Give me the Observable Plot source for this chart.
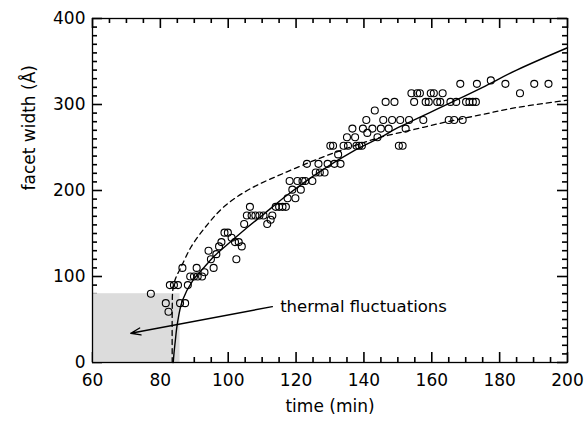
<!DOCTYPE html>
<html><head><meta charset="utf-8">
<script src="https://cdn.jsdelivr.net/npm/d3@7"></script>
<script src="https://cdn.jsdelivr.net/npm/@observablehq/plot@0.6"></script>
<style>
body{margin:0;background:#fff;}
#chart{width:588px;height:425px;}
#chart svg{font-family:"DejaVu Sans",sans-serif;background:#fff;}
</style>
</head><body><div id="chart"></div>
<script>
// measured facet widths (open circles)
const times = [77.2, 81.6, 82.4, 82.8, 84.0, 85.2, 85.8, 87.3, 86.5, 88.1,
  88.8, 89.9, 91.0, 92.3, 90.7, 93.0, 94.2, 94.9, 95.7, 96.5,
  97.3, 98.0, 98.9, 99.9, 101.0, 102.0, 103.1, 104.0, 102.4, 104.7,
  105.5, 106.4, 106.9, 108.0, 109.2, 110.4, 111.5, 112.5, 113.0, 114.0,
  115.0, 116.0, 117.0, 117.5, 119.8, 118.9, 121.4, 118.1, 120.4, 121.9,
  122.7, 124.8, 125.8, 127.0, 128.4, 123.2, 126.6, 129.3, 131.3, 133.1,
  132.4, 130.1, 130.9, 134.0, 135.3, 137.8, 138.6, 139.4, 135.0, 137.4,
  144.0, 136.6, 139.7, 141.0, 142.5, 145.0, 147.3, 152.3, 140.7, 145.7,
  148.3, 150.7, 153.3, 157.5, 165.0, 166.6, 169.1, 143.2, 146.4, 149.0,
  154.8, 158.2, 159.1, 161.6, 162.5, 165.5, 167.2, 170.1, 171.1, 172.1,
  173.0, 154.0, 155.7, 156.5, 159.7, 160.6, 163.2, 186.0, 168.4, 173.3,
  177.4, 181.7, 190.2, 194.4, 150.3, 151.4];
const widths = [80, 69, 59, 90, 90, 90, 69, 69, 110, 90,
  100, 100, 100, 100, 110, 105, 130, 120, 110, 126,
  135, 140, 151, 151, 145, 140, 140, 135, 120, 161,
  171, 181, 171, 171, 171, 171, 161, 166, 171, 181,
  181, 181, 181, 191, 191, 201, 201, 211, 211, 211,
  211, 211, 221, 221, 221, 231, 231, 231, 231, 231,
  242, 252, 252, 252, 252, 252, 252, 252, 262, 262,
  262, 272, 272, 267, 272, 272, 272, 272, 282, 282,
  282, 282, 282, 282, 282, 282, 282, 293, 303, 303,
  303, 303, 303, 303, 303, 303, 303, 303, 303, 303,
  303, 313, 313, 313, 313, 313, 313, 313, 324, 324,
  328, 324, 324, 324, 252, 252];

// solid fit curve
const solidT = [83.8, 84.0, 84.4, 85, 86.5, 89.5, 93, 96, 100, 105, 110, 117.5, 127, 137, 145, 150, 165, 175, 185, 200];
const solidW = [0, 10, 25, 45, 72, 95, 111, 124, 138, 155, 171, 195, 222, 246, 262, 273, 301, 320, 340, 366];

// dashed fit curve
const dashT = [83.5, 83.5, 83.7, 84.5, 86, 89, 94, 99, 106.5, 117.5, 127.3, 137.1, 145, 154.8, 164.6, 174.5, 184.3, 200];
const dashW = [0, 60, 85, 98, 110, 134, 161, 182, 202, 222, 238, 252, 262, 271, 280, 288, 296, 305];

// shaded "thermal fluctuations" region
const shadeT = [60, 85.8];
const shadeW = [0, 80];

// annotation
const noteText = "thermal fluctuations";
const noteAt = [115.3, 65];
const arrowFrom = [113, 65];
const arrowTo = [71.3, 34];

// axes
const xDomain = [60, 200];
const yDomain = [0, 400];
const xMajor = [60, 80, 100, 120, 140, 160, 180, 200];
const yMajor = [0, 100, 200, 300, 400];
const xMinor = [65, 70, 75, 85, 90, 95, 105, 110, 115, 125, 130, 135, 145, 150, 155, 165, 170, 175, 185, 190, 195];
const yMinor = [10, 20, 30, 40, 50, 60, 70, 80, 90, 110, 120, 130, 140, 150, 160, 170, 180, 190,
  210, 220, 230, 240, 250, 260, 270, 280, 290, 310, 320, 330, 340, 350, 360, 370, 380, 390];
const xTitle = "time (min)";
const yTitle = "facet width (Å)";

const points = times.map((t, i) => ({t, w: widths[i]}));
const solid = solidT.map((t, i) => ({t, w: solidW[i]}));
const dashed = dashT.map((t, i) => ({t, w: dashW[i]}));
const shade = [{t1: shadeT[0], t2: shadeT[1], w1: shadeW[0], w2: shadeW[1]}];
const arrowRow = [{xa: arrowFrom[0], ya: arrowFrom[1], xb: arrowTo[0], yb: arrowTo[1]}];
const noteRow = [{x: noteAt[0], y: noteAt[1], label: noteText}];

const W = 588, H = 425, ML = 92, MR = 21, MT = 18, MB = 63;
const PW = W - ML - MR, PH = H - MT - MB;
const MAJ = 10, MIN = 5;
const FONT = "DejaVu Sans";

const chart = Plot.plot({
  width: W, height: H,
  marginLeft: ML, marginRight: MR, marginTop: MT, marginBottom: MB,
  x: {domain: xDomain, axis: null},
  y: {domain: yDomain, axis: null},
  marks: [
    // inward ticks on all four sides
    Plot.ruleX(xMajor, {x: d => d, insetTop: PH - MAJ, stroke: "black", strokeWidth: 1.6}),
    Plot.ruleX(xMinor, {x: d => d, insetTop: PH - MIN, stroke: "black", strokeWidth: 1.6}),
    Plot.ruleX(xMajor, {x: d => d, insetBottom: PH - MAJ, stroke: "black", strokeWidth: 1.6}),
    Plot.ruleX(xMinor, {x: d => d, insetBottom: PH - MIN, stroke: "black", strokeWidth: 1.6}),
    Plot.tickY(yMajor, {y: d => d, insetRight: PW - MAJ, stroke: "black", strokeWidth: 1.6}),
    Plot.tickY(yMinor, {y: d => d, insetRight: PW - MIN, stroke: "black", strokeWidth: 1.6}),
    Plot.tickY(yMajor, {y: d => d, insetLeft: PW - MAJ, stroke: "black", strokeWidth: 1.6}),
    Plot.tickY(yMinor, {y: d => d, insetLeft: PW - MIN, stroke: "black", strokeWidth: 1.6}),
    // shaded region
    Plot.rect(shade, {x1: "t1", x2: "t2", y1: "w1", y2: "w2", fill: "#dcdcdc"}),
    // tick labels
    Plot.axisX({anchor: "bottom", ticks: xMajor, tickSize: 0, tickPadding: 11, label: null, fontSize: 17, fontFamily: FONT}),
    Plot.axisY({anchor: "left", ticks: yMajor, tickSize: 0, tickPadding: 7, label: null, fontSize: 17, fontFamily: FONT}),
    // titles
    Plot.text([xTitle], {text: d => d, frameAnchor: "bottom", dy: 49, fontSize: 17, fontFamily: FONT}),
    Plot.text([yTitle], {text: d => d, frameAnchor: "left", dx: -63, rotate: -90, fontSize: 17, fontFamily: FONT}),
    // curves
    Plot.line(dashed, {x: "t", y: "w", curve: "catmull-rom", stroke: "black", strokeWidth: 1.3, strokeDasharray: "5,4"}),
    Plot.line(solid, {x: "t", y: "w", curve: "catmull-rom", stroke: "black", strokeWidth: 1.4}),
    // data points
    Plot.dot(points, {x: "t", y: "w", r: 3.5, stroke: "black", strokeWidth: 1.1, fill: "none"}),
    // annotation
    Plot.arrow(arrowRow, {x1: "xa", y1: "ya", x2: "xb", y2: "yb", stroke: "black", strokeWidth: 1.4, headLength: 11, headAngle: 40}),
    Plot.text(noteRow, {x: "x", y: "y", text: "label", textAnchor: "start", fontSize: 16.5, fontFamily: FONT}),
    Plot.frame({stroke: "black", strokeWidth: 1.3})
  ]
});
document.getElementById("chart").appendChild(chart);
</script>
</body></html>
